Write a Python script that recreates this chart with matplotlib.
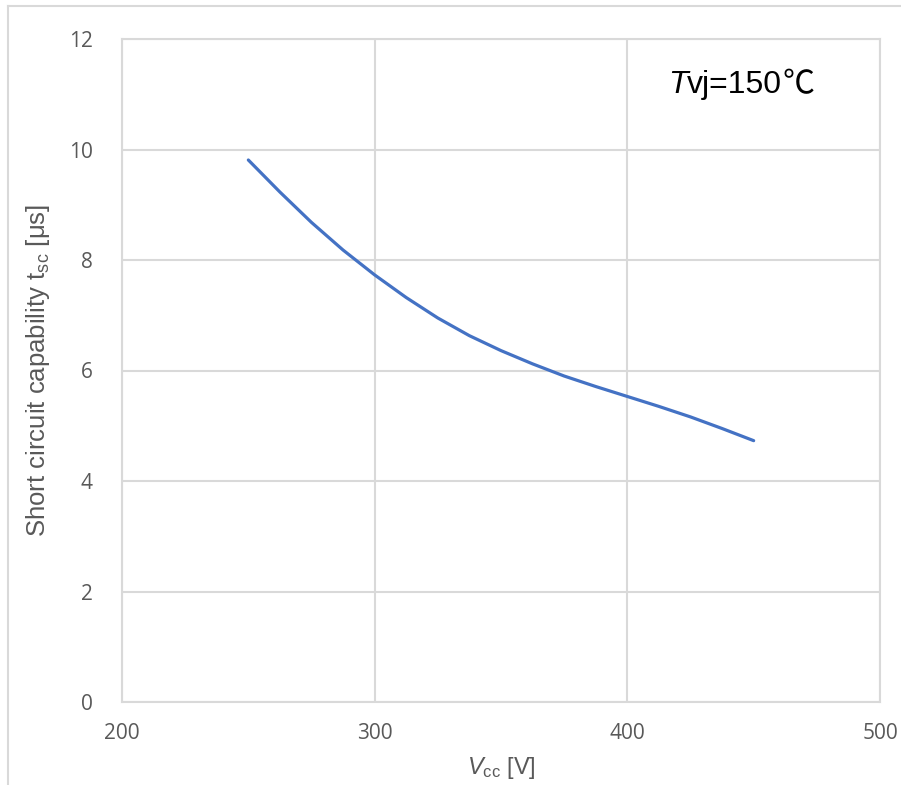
import matplotlib
matplotlib.use('Agg')
import matplotlib.pyplot as plt
from matplotlib.lines import Line2D

plt.rcParams['font.family'] = ['Liberation Sans', 'DejaVu Sans']
plt.rcParams['mathtext.fontset'] = 'custom'
plt.rcParams['mathtext.rm'] = 'Liberation Sans'
plt.rcParams['mathtext.it'] = 'Liberation Sans:italic'

# values (Tvj = 150 C)
vcc = [250, 262.5, 275, 287.5, 300, 312.5, 325, 337.5, 350, 362.5,
       375, 387.5, 400, 412.5, 425, 437.5, 450]
tsc = [9.81, 9.23, 8.68, 8.18, 7.73, 7.32, 6.95, 6.63, 6.36, 6.12,
       5.90, 5.71, 5.53, 5.35, 5.16, 4.95, 4.73]
x_ticks = [200, 300, 400, 500]
y_ticks = [0, 2, 4, 6, 8, 10, 12]

GRID = '#d9d9d9'
TICK = '#595959'

fig = plt.figure(figsize=(9.01, 7.85), dpi=100)
ax = fig.add_axes([122 / 901, 1 - 702 / 785, 758 / 901, 663 / 785])

ax.plot(vcc, tsc, color='#4472C4', linewidth=2.3, solid_capstyle='round',
        solid_joinstyle='round')

ax.set_xlim(200, 500)
ax.set_ylim(0, 12)
ax.set_xticks(x_ticks)
ax.set_yticks(y_ticks)
ax.grid(True, color=GRID, linewidth=1.5)
ax.set_axisbelow(True)
for s in ax.spines.values():
    s.set_color(GRID)
    s.set_linewidth(1.5)
ax.tick_params(length=0, labelcolor=TICK, labelsize=15)
ax.tick_params(axis='x', pad=15)
ax.tick_params(axis='y', pad=21)
for lab in ax.get_xticklabels() + ax.get_yticklabels():
    lab.set_family('Open Sans')

ax.set_xlabel(r'$\mathit{V}_{\mathrm{cc}}$ [V]', fontsize=17, color=TICK, labelpad=8)
ax.set_ylabel(r'Short circuit capability t$_{\mathrm{sc}}$ [μs]', fontsize=18.5,
              color=TICK, labelpad=12)

t1 = ax.text(0.72, 0.9186, 'T', transform=ax.transAxes, fontsize=23,
             style='italic', va='baseline', ha='left', color='black')
t2 = ax.annotate('vj=150', xy=(1, 0), xycoords=t1, fontsize=23, va='bottom',
                 ha='left', color='black', family='Liberation Sans')
ax.annotate('℃', xy=(1, 0), xycoords=t2, fontsize=23, va='bottom',
            ha='left', color='black', family='Noto Sans CJK JP')

# outer chart border (cropped on the right and bottom)
fig.add_artist(Line2D([7.5 / 901, 7.5 / 901], [0, 1 - 5.5 / 785],
                      transform=fig.transFigure, color=GRID, linewidth=1.5))
fig.add_artist(Line2D([7.5 / 901, 1], [1 - 5.5 / 785, 1 - 5.5 / 785],
                      transform=fig.transFigure, color=GRID, linewidth=1.5))

fig.savefig('out.png', dpi=100)
